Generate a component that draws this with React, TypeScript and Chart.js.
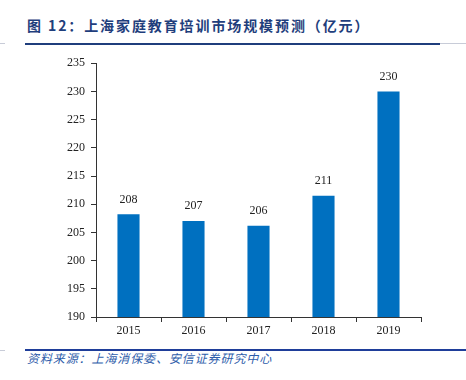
import React, { useEffect, useRef } from "react";
import { Chart, registerables } from "chart.js";

Chart.register(...registerables);

const categories: string[] = ["2015", "2016", "2017", "2018", "2019"];
const marketSize: number[] = [208.2, 207, 206.2, 211.5, 230];
const valueLabels: string[] = ["208", "207", "206", "211", "230"];
const yMin = 190;
const yMax = 235;
const yStep = 5;

const titleText = "图 12：上海家庭教育培训市场规模预测（亿元）";
const sourceText = "资料来源：上海消保委、安信证券研究中心";

const serif = "'Liberation Serif', 'Times New Roman', serif";

export default function App() {
  const canvasRef = useRef<HTMLCanvasElement | null>(null);

  useEffect(() => {
    document.body.style.margin = "0";
    const canvas = canvasRef.current;
    if (!canvas) return;

    const labelPlugin = {
      id: "valueLabels",
      afterDatasetsDraw(chart: any) {
        const ctx = chart.ctx;
        const meta = chart.getDatasetMeta(0);
        ctx.save();
        ctx.font = `12px ${serif}`;
        ctx.fillStyle = "#222";
        ctx.textAlign = "center";
        ctx.textBaseline = "bottom";
        meta.data.forEach((bar: any, i: number) => {
          ctx.fillText(valueLabels[i], bar.x, bar.y - 9);
        });
        ctx.restore();
      },
    };

    const chart = new Chart(canvas, {
      type: "bar",
      data: {
        labels: categories,
        datasets: [
          {
            data: marketSize,
            backgroundColor: "#0070C0",
            borderWidth: 0,
            categoryPercentage: 1,
            barPercentage: 0.34,
          },
        ],
      },
      options: {
        responsive: false,
        animation: false,
        devicePixelRatio: 1,
        layout: { padding: { top: 13, right: 45, bottom: 0, left: 0 } },
        plugins: {
          legend: { display: false },
          tooltip: { enabled: false },
          title: { display: false },
        },
        scales: {
          x: {
            offset: true,
            grid: {
              display: true,
              offset: true,
              drawOnChartArea: false,
              drawTicks: true,
              tickLength: 5,
              color: "#333",
            },
            border: { display: true, color: "#333", width: 1 },
            ticks: {
              color: "#222",
              font: { family: serif, size: 12 },
              padding: 2,
            },
            afterFit(scale: any) {
              scale.height = 23;
            },
          },
          y: {
            min: yMin,
            max: yMax,
            ticks: {
              stepSize: yStep,
              color: "#222",
              font: { family: serif, size: 12 },
              padding: 6,
            },
            grid: {
              display: true,
              drawOnChartArea: false,
              drawTicks: true,
              tickLength: 5,
              color: "#333",
            },
            border: { display: true, color: "#333", width: 1 },
            afterFit(scale: any) {
              scale.width = 96;
            },
          },
        },
      },
      plugins: [labelPlugin],
    });

    return () => chart.destroy();
  }, []);

  return (
    <div style={{ position: "absolute", left: 0, top: 0, width: 466, height: 380, background: "#fff", overflow: "hidden" }}>
      <div
        style={{
          position: "absolute",
          left: 27,
          top: 15,
          fontFamily: "'Noto Sans CJK SC', sans-serif",
          fontWeight: 700,
          fontSize: 14,
          letterSpacing: 1.9,
          color: "#1F3E7C",
          lineHeight: "20px",
          whiteSpace: "nowrap",
        }}
      >
        {titleText}
      </div>
      <div style={{ position: "absolute", left: 0, top: 43, width: 5, height: 1, background: "#c8ccd8" }} />
      <div style={{ position: "absolute", left: 25, top: 43, width: 415, height: 2, background: "#1F3E7C" }} />
      <div style={{ position: "absolute", left: 440, top: 43, width: 26, height: 1, background: "#c8ccd8" }} />
      <canvas
        ref={canvasRef}
        width={466}
        height={290}
        style={{ position: "absolute", left: 0, top: 50, width: 466, height: 290 }}
      />
      <div style={{ position: "absolute", left: 0, top: 350, width: 5, height: 1, background: "#c8ccd8" }} />
      <div style={{ position: "absolute", left: 25, top: 349, width: 441, height: 2, background: "#1F3E9A" }} />
      <div
        style={{
          position: "absolute",
          left: 27,
          top: 351,
          fontFamily: "'Noto Sans CJK SC', sans-serif",
          fontStyle: "italic",
          fontSize: 12,
          letterSpacing: 0.9,
          color: "#2E5DAA",
          lineHeight: "14px",
          whiteSpace: "nowrap",
        }}
      >
        {sourceText}
      </div>
    </div>
  );
}
